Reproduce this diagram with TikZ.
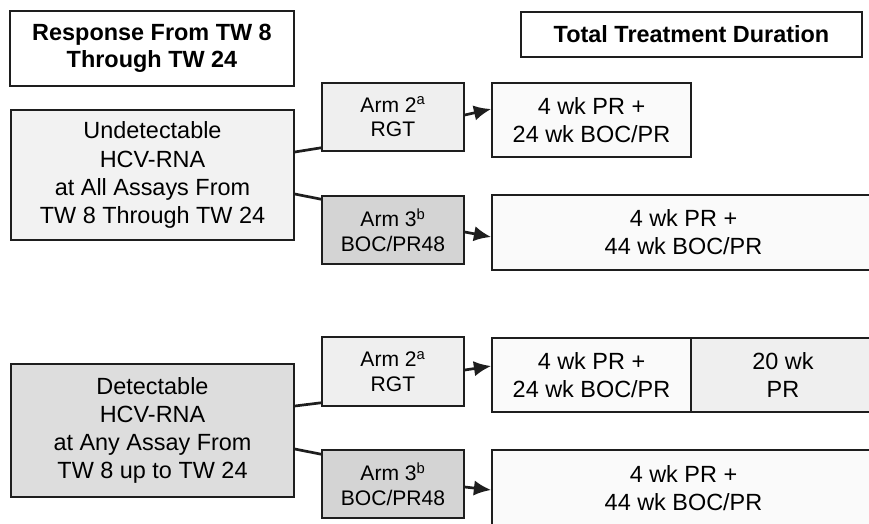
\documentclass[tikz,border=0pt]{standalone}
\usepackage{fontspec}
\setmainfont{Liberation Sans}
\usepackage{xcolor}
\definecolor{lineDark}{HTML}{1E1E1E}
\definecolor{paleGray}{HTML}{F2F2F2}
\definecolor{armLight}{HTML}{EFEFEF}
\definecolor{armDark}{HTML}{D4D4D4}
\definecolor{detGray}{HTML}{DDDDDD}
\definecolor{resFill}{HTML}{FAFAFA}
\usepackage{tikz}
\usetikzlibrary{positioning,arrows.meta}
\tikzset{
  headBox/.style={
    rectangle,
    draw=lineDark,
    line width=1.3pt,
    fill=white,
    align=center,
    inner sep=0pt,
    font=\fontsize{20}{23}\selectfont\bfseries
 },
  respBox/.style={
    rectangle,
    draw=lineDark,
    line width=1.3pt,
    minimum width=8.49cm,
    align=center,
    inner sep=0pt,
    font=\fontsize{20}{24}\selectfont
 },
  armBox/.style={
    rectangle,
    draw=lineDark,
    line width=1.3pt,
    minimum width=4.26cm,
    minimum height=2.04cm,
    align=center,
    inner sep=0pt,
    font=\fontsize{18}{21}\selectfont
 },
  resBox/.style={
    rectangle,
    draw=lineDark,
    line width=1.3pt,
    fill=resFill,
    minimum height=2.22cm,
    align=center,
    inner sep=0pt,
    font=\fontsize{20}{24}\selectfont
 },
  linkLine/.style={
    line width=2.3pt,
    color=lineDark
 },
  arrowLine/.style={
    -{Latex[length=5.2mm,width=4.6mm]},
    line width=2.3pt,
    color=lineDark
 }
}

\begin{document}
\begin{tikzpicture}[x=0.03cm,y=-0.03cm]
            \clip (0,0) rectangle (869,523);

            % column headings
            \node[headBox, minimum width=8.52cm, minimum height=2.25cm] (headResp) at (152,48.5) {Response From TW 8\\Through TW 24};
            \node[headBox, minimum width=10.23cm, minimum height=1.35cm] (headDur) at (691.5,34.5) {Total Treatment Duration};

            % undetectable branch
            \node[respBox, fill=paleGray, minimum height=3.9cm] (undet) at (152.5,175) {Undetectable\\HCV-RNA\\at All Assays From\\TW 8 Through TW 24};
            \node[armBox, fill=armLight] (armTwoU) at (393,117) {Arm 2\textsuperscript{a}\\RGT};
            \node[armBox, fill=armDark] (armThreeU) at (393,230) {Arm 3\textsuperscript{b}\\BOC/PR48};
            \node[resBox, minimum width=5.97cm] (durTwoU) at (591.5,120) {4 wk PR +\\24 wk BOC/PR};
            \node[resBox, minimum width=11.49cm, minimum height=2.25cm] (durThreeU) at (683.5,232.5) {4 wk PR +\\44 wk BOC/PR};

            % detectable branch
            \node[respBox, fill=detGray, minimum height=3.99cm] (det) at (152.5,430.5) {Detectable\\HCV-RNA\\at Any Assay From\\TW 8 up to TW 24};
            \node[armBox, fill=armLight, minimum height=2.07cm] (armTwoD) at (393,371.5) {Arm 2\textsuperscript{a}\\RGT};
            \node[armBox, fill=armDark] (armThreeD) at (393,484) {Arm 3\textsuperscript{b}\\BOC/PR48};
            \node[resBox, minimum width=5.97cm] (durTwoD) at (591.5,375) {4 wk PR +\\24 wk BOC/PR};
            \node[resBox, fill=armLight, minimum width=5.52cm, right=-1.3pt of durTwoD] (extraPR) {20 wk\\PR};
            \node[resBox, minimum width=11.49cm, minimum height=2.28cm] (durThreeD) at (683.5,488) {4 wk PR +\\44 wk BOC/PR};

            \draw[linkLine] ([yshift=0.69cm]undet.east) -- ([yshift=0.12cm]armTwoU.south west);
            \draw[linkLine] ([yshift=-0.57cm]undet.east) -- ([yshift=-0.12cm]armThreeU.north west);
            \draw[arrowLine] ([yshift=0.06cm]armTwoU.east) -- ([yshift=0.33cm]durTwoU.west);
            \draw[arrowLine] ([yshift=-0.06cm]armThreeU.east) -- ([yshift=-0.135cm]durThreeU.west);

            \draw[linkLine] ([yshift=0.735cm]det.east) -- ([yshift=0.12cm]armTwoD.south west);
            \draw[linkLine] ([yshift=-0.555cm]det.east) -- ([yshift=-0.15cm]armThreeD.north west);
            \draw[arrowLine] ([yshift=0.045cm]armTwoD.east) -- ([yshift=0.27cm]durTwoD.west);
            \draw[arrowLine] ([yshift=-0.09cm]armThreeD.east) -- ([yshift=-0.06cm]durThreeD.west);
        \end{tikzpicture}
\end{document}
